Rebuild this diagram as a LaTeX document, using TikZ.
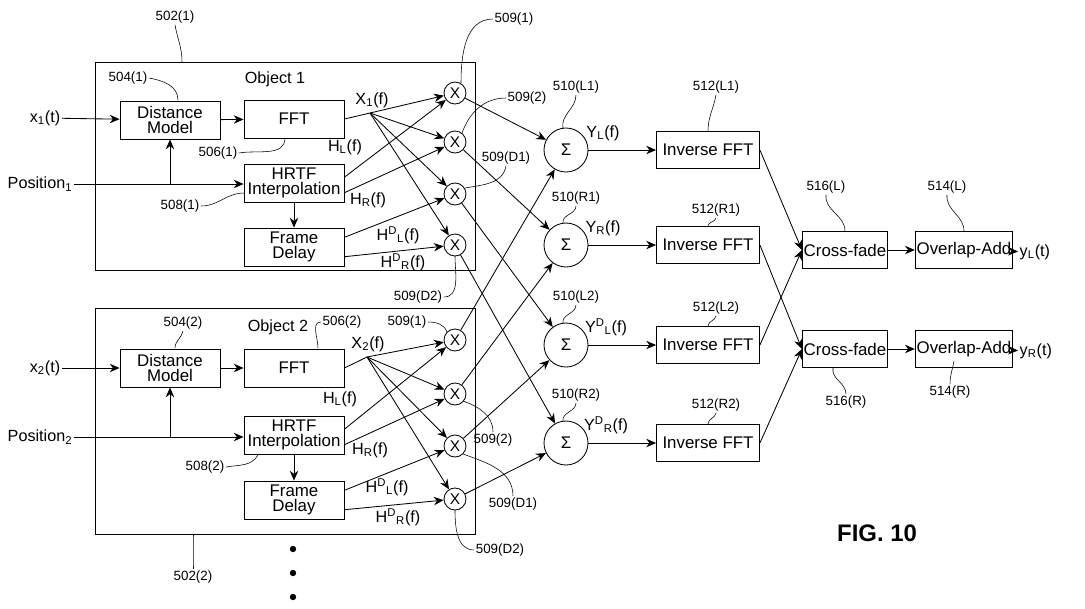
\documentclass[tikz,border=0pt]{standalone}
\usepackage{fontspec}
\setmainfont{Liberation Sans}
\usetikzlibrary{arrows.meta,positioning,calc}
\tikzset{
	block/.style={
		rectangle,
		draw,
		semithick,
		minimum width=100\pxu,
		minimum height=38\pxu,
		inner sep=1pt,
		align=center,
		font=\fontsize{12}{11}\selectfont,
	},
	mult/.style={
		circle,
		draw,
		semithick,
		minimum size=22\pxu,
		inner sep=0pt,
		font=\fontsize{11}{11}\selectfont,
	},
	sumnode/.style={
		circle,
		draw,
		semithick,
		minimum size=44\pxu,
		inner sep=0pt,
		font=\fontsize{12}{12}\selectfont,
	},
	link/.style={
		-{Stealth[length=7pt,width=6pt]},
		semithick,
	},
	leader/.style={
		thin,
	},
	lbl/.style={
		font=\fontsize{9.5}{10}\selectfont,
		inner sep=1pt,
	},
	sig/.style={
		font=\fontsize{11.5}{11}\selectfont,
		inner sep=1pt,
	},
}
\newlength{\pxu}
\setlength{\pxu}{0.025cm}
\begin{document}
\begin{tikzpicture}[x=0.025cm,y=-0.025cm,font=\fontsize{11.5}{11}\selectfont]
	\useasboundingbox (0,0) rectangle (1085,608);
	% object boxes
	\node[draw,semithick,minimum width=380\pxu,minimum height=208\pxu] (obj1) at (285,166) {};
	\node[draw,semithick,minimum width=380\pxu,minimum height=226\pxu] (obj2) at (285,421) {};
	\node at (275,79) {Object 1};
	\node at (278,327) {Object 2};
	% object 1
	\node[block] (dist1) at (170,120) {Distance\\Model};
	\node[block] (fft1)  at (294,119) {FFT};
	\node[block] (hrtf1) at (294,183) {HRTF\\Interpolation};
	\node[block] (fd1)   at (294,247) {Frame\\Delay};
	\node[sig] (in1)  at (45,118) {x\textsubscript{1}(t)};
	\node[sig] (pos1) at (40,184) {Position\textsubscript{1}};
	\coordinate (br1) at (170,184);
	\coordinate (xb1) at (370,113);
	\foreach \i/\y in {1/93,2/142,3/194,4/245}
		\node[mult] (m1\i) at (455,\y) {X};
	% object 2
	\node[block] (dist2) at (170,368) {Distance\\Model};
	\node[block] (fft2)  at (294,368) {FFT};
	\node[block] (hrtf2) at (294,435) {HRTF\\Interpolation};
	\node[block] (fd2)   at (294,500) {Frame\\Delay};
	\node[sig] (in2)  at (45,368) {x\textsubscript{2}(t)};
	\node[sig] (pos2) at (40,437) {Position\textsubscript{2}};
	\coordinate (br2) at (170,435);
	\coordinate (xb2) at (367,357);
	\foreach \i/\y in {1/340,2/394,3/446,4/499}
		\node[mult] (m2\i) at (455,\y) {X};
	% sums and back end
	\foreach \n/\y in {L1/150,R1/245,L2/345,R2/443} {
		\node[sumnode] (s\n) at (566,\y) {Σ};
		\node[block,minimum width=103\pxu,minimum height=37\pxu] (ifft\n) at (708,\y) {Inverse FFT};
		\draw[link] (s\n) -- (ifft\n);
	}
	\node[block,minimum width=84\pxu,minimum height=37\pxu] (cfL) at (845,250) {Cross-fade};
	\node[block,minimum width=84\pxu,minimum height=37\pxu] (cfR) at (845,349) {Cross-fade};
	\node[block,minimum width=96\pxu,minimum height=37\pxu] (olaL) at (964,250) {Overlap-Add};
	\node[block,minimum width=96\pxu,minimum height=37\pxu] (olaR) at (964,349) {Overlap-Add};
	\node[sig,anchor=west] (yL) at (1018,252) {y\textsubscript{L}(t)};
	\node[sig,anchor=west] (yR) at (1018,351) {y\textsubscript{R}(t)};
	\node[font=\bfseries\fontsize{17}{17}\selectfont] (fig) at (877,533) {FIG. 10};
	\foreach \k in {0,24,48}
		\fill (293,549+\k) circle (3.2);

	% wiring inside objects
	\foreach \o in {1,2} {
		\draw[link] (in\o) -- (dist\o);
		\draw[link] (pos\o.east) -- (hrtf\o.west |- pos\o.east);
		\draw[link] (br\o |- pos\o.east) -- (dist\o);
		\draw[link] (dist\o) -- (fft\o);
		\draw[link] (hrtf\o) -- (fd\o);
		\draw[semithick] (fft\o.east) -- (xb\o);
		\foreach \i in {1,...,4}
			\draw[link] (xb\o) -- (m\o\i);
		\draw[link] ($(hrtf\o.north east)!0.35!(hrtf\o.south east)$) -- (m\o1);
		\draw[link] ($(hrtf\o.north east)!0.75!(hrtf\o.south east)$) -- (m\o2);
		\draw[link] ($(fd\o.north east)!0.25!(fd\o.south east)$) -- (m\o3);
		\draw[link] ($(fd\o.north east)!0.75!(fd\o.south east)$) -- (m\o4);
		\draw[link] (m\o1) -- (sL1);
		\draw[link] (m\o2) -- (sR1);
		\draw[link] (m\o3) -- (sL2);
		\draw[link] (m\o4) -- (sR2);
	}
	\draw[link] (ifftL1.east) -- (cfL.west);
	\draw[link] (ifftL2.east) -- (cfL.west);
	\draw[link] (ifftR1.east) -- (cfR.west);
	\draw[link] (ifftR2.east) -- (cfR.west);
	\draw[link] (cfL) -- (olaL);
	\draw[link] (cfR) -- (olaR);
	\draw[link] (olaL) -- (yL);
	\draw[link] (olaR) -- (yR);

	% signal labels
	\node[sig] at (372,100) {X\textsubscript{1}(f)};
	\node[sig] at (345,147) {H\textsubscript{L}(f)};
	\node[sig] at (368,200) {H\textsubscript{R}(f)};
	\node[sig] at (398,235) {H\textsuperscript{D}\textsubscript{L}(f)};
	\node[sig] at (403,262) {H\textsuperscript{D}\textsubscript{R}(f)};
	\node[sig] at (368,344) {X\textsubscript{2}(f)};
	\node[sig] at (340,399) {H\textsubscript{L}(f)};
	\node[sig] at (370,450) {H\textsubscript{R}(f)};
	\node[sig] at (387,487) {H\textsuperscript{D}\textsubscript{L}(f)};
	\node[sig] at (398,517) {H\textsuperscript{D}\textsubscript{R}(f)};
	\node[sig] at (603,133) {Y\textsubscript{L}(f)};
	\node[sig] at (603,228) {Y\textsubscript{R}(f)};
	\node[sig] at (606,327) {Y\textsuperscript{D}\textsubscript{L}(f)};
	\node[sig] at (606,425) {Y\textsuperscript{D}\textsubscript{R}(f)};

	% reference numerals
	\node[lbl] (r5021) at (175,17) {502(1)};
	\draw[leader] (r5021.south) to[out=-80,in=90] (182,62);
	\node[lbl] (r5041) at (128,78) {504(1)};
	\draw[leader] (r5041.east) to[out=-10,in=90] (178,100);
	\node[lbl] (r5061) at (218,153) {506(1)};
	\draw[leader] (r5061.east) to[out=10,in=-90] (285,138);
	\node[lbl] (r5081) at (180,206) {508(1)};
	\draw[leader] (r5081.east) to[out=0,in=180] (244,193);
	\node[lbl] (r5091) at (514,19) {509(1)};
	\draw[leader] (r5091.west) to[out=180,in=90] (461,83);
	\node[lbl] (r5092) at (527,98) {509(2)};
	\draw[leader] (r5092.west) to[out=180,in=70] (462,133);
	\node[lbl] (r509D1) at (506,158) {509(D1)};
	\draw[leader] (r509D1.south) to[out=-100,in=10] (465,188);
	\node[lbl] (r509D2) at (418,297) {509(D2)};
	\draw[leader] (r509D2.east) to[out=0,in=-90] (455,256);
	\node[lbl] (r5042) at (183,323) {504(2)};
	\draw[leader] (r5042.south) to[out=-100,in=90] (175,348);
	\node[lbl] (r5062) at (342,322) {506(2)};
	\draw[leader] (r5062.west) to[out=180,in=90] (318,348);
	\node[lbl] (r50921) at (407,322) {509(1)};
	\draw[leader] (r50921.east) to[out=0,in=110] (447,332);
	\node[lbl] (r50922) at (493,440) {509(2)};
	\draw[leader] (r50922.north) to[out=90,in=-20] (463,401);
	\node[lbl] (r509D12) at (513,504) {509(D1)};
	\draw[leader] (r509D12.north) to[out=90,in=-20] (463,454);
	\node[lbl] (r509D22) at (500,550) {509(D2)};
	\draw[leader] (r509D22.west) to[out=180,in=-90] (455,510);
	\node[lbl] (r5082) at (205,467) {508(2)};
	\draw[leader] (r5082.east) to[out=10,in=-120] (258,455);
	\node[lbl] (r5022) at (193,577) {502(2)};
	\draw[leader] (r5022.north) to[out=90,in=-90] (193,534);
	\foreach \n/\y in {L1/87,R1/198,L2/297,R2/395} {
		\node[lbl] (r510\n) at (576,\y) {510(\n)};
		\draw[leader] (r510\n.south) to[out=-90,in=100] ($(s\n)+(-3,-22)$);
	}
	\foreach \n/\y in {L1/87,R1/210,L2/308,R2/405} {
		\node[lbl] (r512\n) at (716,\y) {512(\n)};
		\draw[leader] (r512\n.south) to[out=-100,in=90] (ifft\n.north);
	}
	\node[lbl] (r516L) at (826,187) {516(L)};
	\draw[leader] (r516L.south) to[out=-95,in=90] (cfL.north);
	\node[lbl] (r514L) at (947,187) {514(L)};
	\draw[leader] (r514L.south) to[out=-95,in=90] (olaL.north);
	\node[lbl] (r516R) at (846,402) {516(R)};
	\draw[leader] (r516R.north) to[out=90,in=-100] ($(cfR.south)+(-12,0)$);
	\node[lbl] (r514R) at (950,392) {514(R)};
	\draw[leader] (r514R.north) to[out=90,in=-100] ($(olaR.south)+(-10,-7)$);
\end{tikzpicture}
\end{document}
